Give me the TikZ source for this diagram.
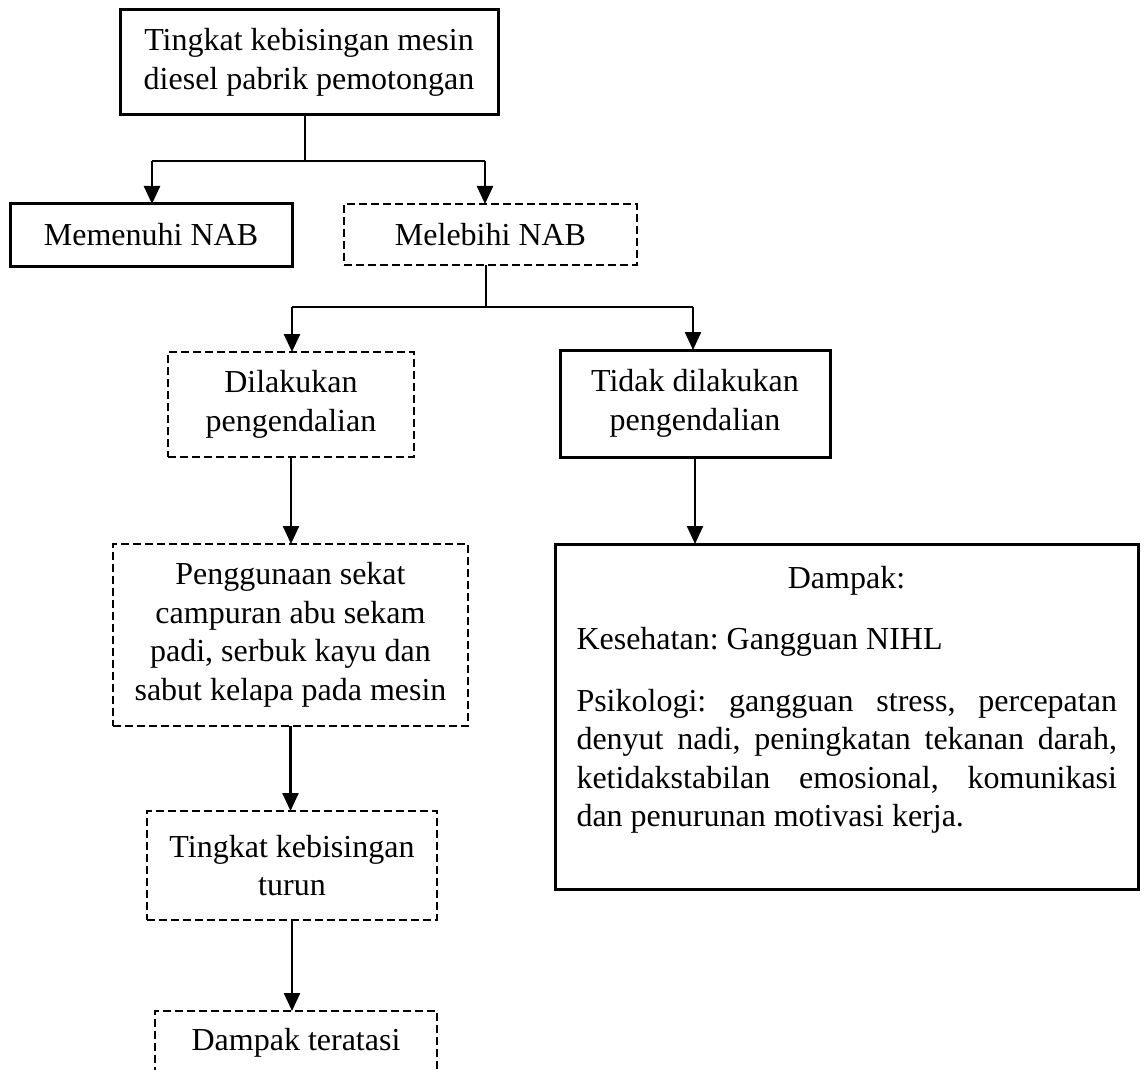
\documentclass[tikz,border=0pt]{standalone}
\usepackage{fontspec}
\setmainfont{Liberation Serif}
\usetikzlibrary{arrows.meta}
\frenchspacing
\begin{document}
\begin{tikzpicture}[x=1pt,y=-1pt,
  every node/.style={font=\fontsize{32}{38.5}\selectfont, inner sep=0pt, outer sep=0pt},
  solidbox/.style={draw, line width=3pt, align=center},
  dashbox/.style={draw, line width=2.6pt, dash pattern=on 8pt off 4pt, align=center},
  thinline/.style={line width=1.3pt},
  arrowline/.style={line width=2.4pt, -{Triangle[width=16pt,length=18pt]}},
  txt/.style={anchor=base west}
]
\useasboundingbox (0,0) rectangle (1144,1070);
\fill[white] (0,0) rectangle (1144,1070);
\clip (0,0) rectangle (1144,1070);

% boxes
\node[solidbox, minimum width=378pt, minimum height=105pt] (top) at (309,62.5)
  {Tingkat kebisingan mesin\\diesel pabrik pemotongan};
\node[solidbox, minimum width=282pt, minimum height=62pt] (memenuhi) at (151,235) {Memenuhi NAB};
\node[dashbox, minimum width=293pt, minimum height=61pt] (melebihi) at (490.5,234.5) {Melebihi NAB};
\node[dashbox, minimum width=246pt, minimum height=105pt] (dilakukan) at (291,404.5)
  {Dilakukan\\pengendalian};
\node[solidbox, minimum width=270pt, minimum height=107pt] (tidak) at (695,403.5)
  {Tidak dilakukan\\pengendalian};
\node[dashbox, minimum width=355pt, minimum height=182pt] (penggunaan) at (290.5,635)
  {Penggunaan sekat\\campuran abu sekam\\padi, serbuk kayu dan\\sabut kelapa pada mesin};
\node[dashbox, minimum width=290pt, minimum height=109pt] (turun) at (292,865.5)
  {Tingkat kebisingan\\turun};
\node[dashbox, minimum width=282pt, minimum height=64pt] (teratasi) at (296,1043)
  {Dampak teratasi};
\node[solidbox, minimum width=583pt, minimum height=345pt] (dampak) at (846.5,716.5) {};

% text of the impact box
\node[anchor=base] (dh) at (846.5,588) {Dampak:};
\node[txt] (dk) at (576.5,649) {Kesehatan: Gangguan NIHL};
\node[txt] (dp1) at (576.5,711) {\makebox[540.5pt][s]{Psikologi: gangguan stress, percepatan}};
\node[txt] (dp2) at (576.5,749.5) {\makebox[540.5pt][s]{denyut nadi, peningkatan tekanan darah,}};
\node[txt] (dp3) at (576.5,788) {\makebox[540.5pt][s]{ketidakstabilan emosional, komunikasi}};
\node[txt] (dp4) at (576.5,826.5) {dan penurunan motivasi kerja.};

% first branching
\coordinate (j1) at (305,161);
\coordinate (l1) at (152,161);
\coordinate (r1) at (485,161);
\draw[thinline] (j1 |- top.south) -- (j1);
\draw[thinline] (l1) -- (r1);
\draw[arrowline] (l1) -- (l1 |- memenuhi.north);
\draw[arrowline] (r1) -- (r1 |- melebihi.north);

% second branching
\coordinate (j2) at (486,307);
\coordinate (l2) at (292,307);
\coordinate (r2) at (693,307);
\draw[thinline] (j2 |- melebihi.south) -- (j2);
\draw[thinline] (l2) -- (r2);
\draw[arrowline] (l2) -- (l2 |- dilakukan.north);
\draw[arrowline] (r2) -- (r2 |- tidak.north);

% chains
\draw[arrowline] (dilakukan.south) -- (dilakukan.south |- penggunaan.north);
\draw[arrowline] (penggunaan.south) -- (penggunaan.south |- turun.north);
\draw[arrowline] (turun.south) -- (turun.south |- teratasi.north);
\draw[arrowline] (tidak.south) -- (tidak.south |- dampak.north);
\end{tikzpicture}
\end{document}
